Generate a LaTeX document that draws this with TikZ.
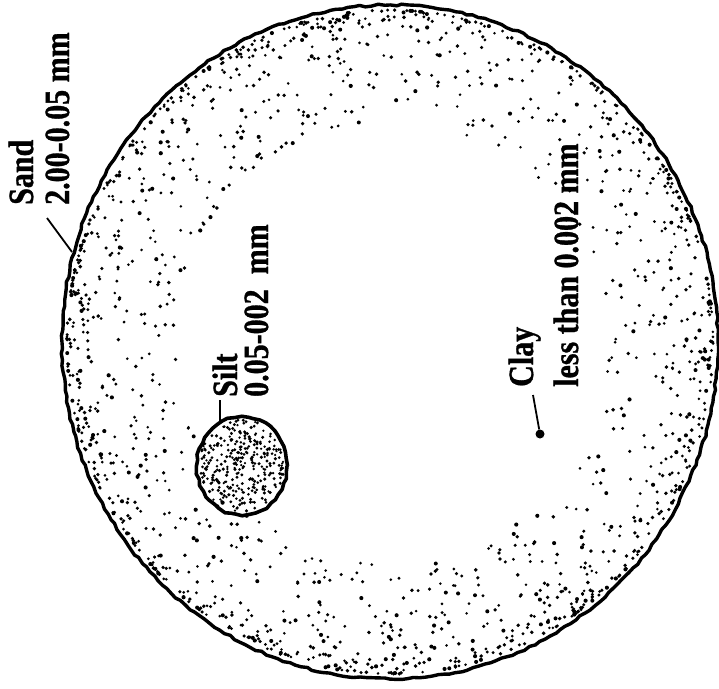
\documentclass[tikz,border=0pt]{standalone}
\usepackage{fontspec}
\setmainfont{Liberation Serif}[BoldFeatures={FakeBold=1.0}]
\usetikzlibrary{decorations.pathmorphing}
\tikzset{
  lbl/.style={rotate=90, anchor=base west, inner sep=0pt, font=\bfseries\fontsize{30}{36}\selectfont},
  rim/.style={line width=3.4pt, line join=round, decorate, decoration={random steps, segment length=6pt, amplitude=1pt}},
  leader/.style={line width=1.8pt},
}
\newcommand{\tall}[1]{\scalebox{1}[1.18]{#1}}
\begin{document}
\begin{tikzpicture}[x=1pt,y=-1pt]
\useasboundingbox (0,0) rectangle (719,688);
\pgfmathsetseed{7}
% stippling of the sand grain
\foreach \i in {1,...,1500}{
  \pgfmathsetmacro\a{rnd*360}
  \pgfmathsetmacro\r{0.985-0.33*rnd^2.6}
  \pgfmathsetmacro\s{1.4+0.7*rnd}
  \fill ({390+328*\r*cos(\a)},{342+337*\r*sin(\a)}) circle (\s pt);
}
% sand outline
\draw[rim] (390,342) ellipse (328 and 337);
% silt grain
\foreach \i in {1,...,300}{
  \pgfmathsetmacro\a{rnd*360}
  \pgfmathsetmacro\r{0.95*sqrt(rnd)}
  \pgfmathsetmacro\s{1.2+0.6*rnd}
  \fill ({242+45*\r*cos(\a)},{466+49*\r*sin(\a)}) circle (\s pt);
}
\draw[rim, line width=3.6pt] (242,466) ellipse (45 and 49);
% labels
\node[lbl] (sand1) at (33,205) {\tall{Sand}};
\node[lbl] (sand2) at (69,205) {\tall{2.00-0.05 mm}};
\node[lbl] (silt1) at (237,397) {\tall{Silt}};
\node[lbl] (silt2) at (268,397) {\tall{0.05-002\hspace{0.5em}mm}};
\node[lbl] (clay1) at (533,387) {\tall{Clay}};
\node[lbl] (clay2) at (578,387) {\tall{less than 0.002 mm}};
% leaders
\coordinate (sandL) at (47,218);
\coordinate (sandE) at (72,252);
\draw[leader] (sandL) -- (sandE);
\coordinate (siltL) at (220,400);
\coordinate (siltT) at (220,422);
\draw[leader] (siltL) -- (siltT);
\node[circle, fill, inner sep=0pt, minimum size=9pt] (claydot) at (540,434) {};
\coordinate (clayL) at (533,395);
\draw[leader] (clayL) -- (claydot);
\end{tikzpicture}
\end{document}
